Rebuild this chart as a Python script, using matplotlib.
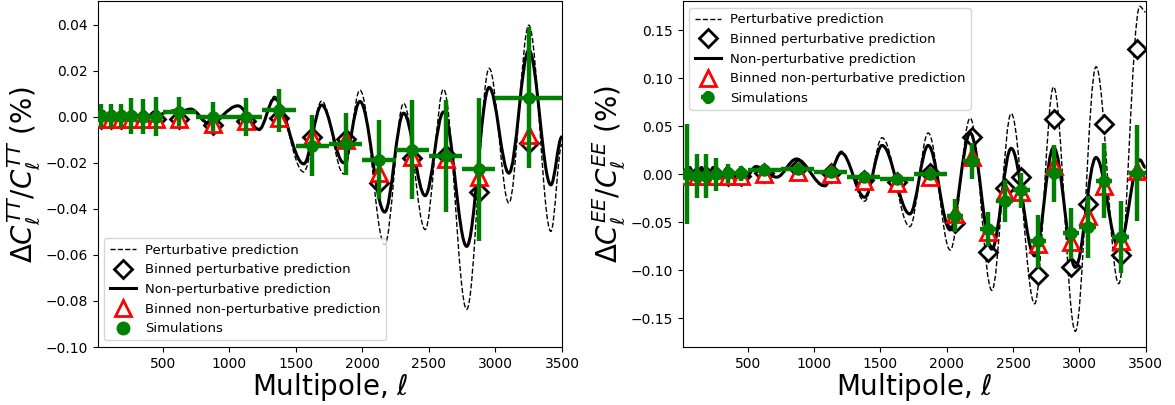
import matplotlib
matplotlib.use("Agg")
import matplotlib.pyplot as plt
from matplotlib.path import Path
from matplotlib.patches import PathPatch
from matplotlib.lines import Line2D
import numpy as np

# ---------------- TT panel data ----------------
tt_edges = [2, 75, 150, 225, 300, 400, 500, 750, 1000, 1250, 1500, 1750,
            2000, 2250, 2500, 2750, 3000, 3500]
tt_sim = [0.0005, 0.0005, 0.0003, 0.0003, 0.0, 0.0, 0.0022, 0.0, 0.0, 0.0027,
          -0.0126, -0.0118, -0.0186, -0.0143, -0.0170, -0.0229, 0.0083]
tt_sim_err = [0.005, 0.005, 0.005, 0.008, 0.0075, 0.0085, 0.0063, 0.0064, 0.0083,
              0.0093, 0.0133, 0.0135, 0.0170, 0.0215, 0.0242, 0.0310, 0.0307]
tt_bin_np = [-0.0012, -0.0012, -0.0012, -0.0012, -0.0012, -0.0012, -0.0008, -0.0033,
             -0.0019, -0.0007, -0.0087, -0.0100, -0.0245, -0.0173, -0.0185, -0.0260, -0.0079]
tt_bin_p = [-0.0010, -0.0010, -0.0010, -0.0010, -0.0010, -0.0010, -0.0008, -0.0035,
            -0.0019, -0.0005, -0.0090, -0.0098, -0.0286, -0.0180, -0.0165, -0.0325, -0.0115]

tt_curve_ell = [10, 25, 55, 90, 130, 165, 205, 240, 280, 320, 355, 395, 435, 475,
                520, 600, 640, 710, 850, 1065, 1225, 1340, 1560, 1695, 1860, 1982,
                2168, 2310, 2472, 2610, 2784, 2953, 3101, 3251, 3416, 3500]
tt_curve_np = [0.0005, -0.0008, 0.0022, -0.0005, 0.0021, -0.0004, 0.0021, -0.0003,
               0.0020, 0.0000, 0.0021, 0.0002, 0.0020, 0.0006, 0.0018, 0.0027, 0.0024,
               0.0033, -0.0030, 0.0047, -0.0055, 0.0078, -0.0205, 0.0050, -0.0200,
               0.0066, -0.0414, 0.0015, -0.0343, 0.0020, -0.0563, 0.0127, -0.0245,
               0.0289, -0.0296, -0.0087]
tt_curve_p = [0.0005, -0.0008, 0.0022, -0.0005, 0.0021, -0.0004, 0.0021, -0.0003,
              0.0020, 0.0000, 0.0021, 0.0002, 0.0020, 0.0006, 0.0018, 0.0027, 0.0024,
              0.0033, -0.0040, 0.0045, -0.0060, 0.0088, -0.0240, 0.0068, -0.0248,
              0.0115, -0.0556, 0.0058, -0.0490, 0.0119, -0.0837, 0.0210, -0.0375,
              0.0397, -0.0498, -0.0120]

# ---------------- EE panel data ----------------
ee_edges = [2, 75, 150, 225, 300, 400, 500, 750, 1000, 1250, 1500, 1750, 2000,
            2125, 2250, 2375, 2500, 2625, 2750, 2875, 3000, 3125, 3250, 3375, 3500]
ee_sim = [0.0, -0.0016, -0.0016, 0.0, 0.0008, 0.0008, 0.0044, 0.0054, 0.0026,
          -0.0033, -0.0054, 0.0, -0.0432, 0.0140, -0.0570, -0.0276, -0.0165,
          -0.0700, 0.0008, -0.0616, -0.0553, -0.0068, -0.0650, 0.0008]
ee_sim_err = [0.052, 0.023, 0.023, 0.017, 0.010, 0.008, 0.006, 0.006, 0.006,
              0.006, 0.006, 0.006, 0.0174, 0.0190, 0.0180, 0.0217, 0.0182, 0.0277,
              0.0295, 0.0265, 0.0324, 0.0390, 0.0376, 0.0500]
ee_bin_np = [-0.002, -0.002, -0.002, -0.002, -0.002, -0.002, 0.0, 0.0019, 0.0,
             -0.0075, -0.0096, -0.0033, -0.0414, 0.0175, -0.0606, -0.0189, -0.0189,
             -0.0726, 0.0088, -0.0710, -0.0432, -0.0120, -0.0700, 0.0036]
ee_bin_p = [-0.002, -0.002, -0.002, -0.002, -0.002, -0.002, 0.001, 0.0070, 0.001,
            -0.0060, -0.0080, 0.0010, -0.0512, 0.0390, -0.0814, -0.0148, -0.0026,
            -0.1046, 0.0574, -0.0970, -0.0310, 0.0520, -0.0838, 0.1310]

ee_curve_ell = [10, 30, 62, 105, 150, 195, 238, 290, 339, 390, 440, 490, 560, 717,
                865, 1079, 1205, 1381, 1512, 1721, 1860, 2026, 2177, 2340, 2486,
                2663, 2806, 2970, 3126, 3297, 3456, 3500]
ee_curve_np = [0.0, -0.006, 0.007, -0.008, 0.007, -0.008, 0.007, -0.007, 0.006,
               -0.006, 0.005, -0.002, 0.008, -0.003, 0.0158, -0.012, 0.0222, -0.024,
               0.030, -0.0414, 0.030, -0.058, 0.043, -0.078, 0.027, -0.085, 0.028,
               -0.097, 0.0175, -0.076, 0.015, 0.007]
ee_curve_p = [0.0, -0.006, 0.007, -0.008, 0.007, -0.008, 0.007, -0.007, 0.006,
              -0.006, 0.005, -0.002, 0.008, -0.003, 0.0165, -0.013, 0.024, -0.028,
              0.038, -0.0546, 0.043, -0.079, 0.0585, -0.121, 0.0633, -0.135, 0.091,
              -0.1636, 0.112, -0.114, 0.175, 0.169]

labels = ["Perturbative prediction", "Binned perturbative prediction",
          "Non-perturbative prediction", "Binned non-perturbative prediction",
          "Simulations"]


def smooth_path(x, y):
    """Smooth curve through the read extrema (flat tangents at each point)."""
    verts = [(x[0], y[0])]
    codes = [Path.MOVETO]
    for i in range(len(x) - 1):
        d = (x[i + 1] - x[i]) * 0.36
        verts += [(x[i] + d, y[i]), (x[i + 1] - d, y[i + 1]), (x[i + 1], y[i + 1])]
        codes += [Path.CURVE4] * 3
    return Path(verts, codes)


def panel(ax, edges, sim, sim_err, bin_np, bin_p, c_ell, c_np, c_p, sim_marker_only):
    edges = np.asarray(edges, float)
    centers = 0.5 * (edges[1:] + edges[:-1])
    half = 0.5 * (edges[1:] - edges[:-1])

    ax.add_patch(PathPatch(smooth_path(c_ell, c_p), fill=False, edgecolor="black",
                           lw=1.0, linestyle=(0, (3.7, 1.6)), zorder=1))
    ax.plot(centers, bin_p, ls="none", marker="D", ms=9, mfc="white", mec="black",
            mew=2, zorder=2)
    ax.add_patch(PathPatch(smooth_path(c_ell, c_np), fill=False, edgecolor="black",
                           lw=2.2, zorder=3))
    ax.plot(centers, bin_np, ls="none", marker="^", ms=11, mfc="white", mec="red",
            mew=2, zorder=4)
    ax.errorbar(centers, sim, yerr=sim_err, xerr=half, fmt="o", color="green",
                ms=8, elinewidth=3.2, capsize=0, zorder=5)

    handles = [
        Line2D([], [], color="black", lw=1.0, ls="--"),
        Line2D([], [], ls="none", marker="D", ms=9, mfc="white", mec="black", mew=2),
        Line2D([], [], color="black", lw=2.2),
        Line2D([], [], ls="none", marker="^", ms=11, mfc="white", mec="red", mew=2),
    ]
    if sim_marker_only:
        handles.append(Line2D([], [], ls="none", marker="o", ms=9, color="green"))
    else:
        eb = ax.errorbar([np.nan], [np.nan], yerr=[0.01], xerr=[10], fmt="o",
                         color="green", ms=8, elinewidth=3.2, capsize=0)
        handles.append(eb)
    return handles


fig = plt.figure(figsize=(11.75, 4.05), dpi=100)
ax1 = fig.add_axes([0.0831, 0.1432, 0.3952, 0.8531])
ax2 = fig.add_axes([0.5810, 0.1432, 0.3940, 0.8531])

h1 = panel(ax1, tt_edges, tt_sim, tt_sim_err, tt_bin_np, tt_bin_p,
           tt_curve_ell, tt_curve_np, tt_curve_p, True)
h2 = panel(ax2, ee_edges, ee_sim, ee_sim_err, ee_bin_np, ee_bin_p,
           ee_curve_ell, ee_curve_np, ee_curve_p, False)

ax1.set_xlim(12, 3500)
ax1.set_ylim(-0.10, 0.05)
ax1.set_yticks([-0.10, -0.08, -0.06, -0.04, -0.02, 0.00, 0.02, 0.04])
ax2.set_xlim(8, 3500)
ax2.set_ylim(-0.18, 0.18)
ax2.set_yticks([-0.15, -0.10, -0.05, 0.00, 0.05, 0.10, 0.15])

for ax in (ax1, ax2):
    ax.set_xticks([500, 1000, 1500, 2000, 2500, 3000, 3500])
    ax.tick_params(labelsize=10)
    ax.set_xlabel(r"Multipole, $\ell$", fontsize=20, labelpad=0)

ax1.set_ylabel(r"$\Delta C_\ell^{TT}/C_\ell^{TT}$ (%)", fontsize=20, labelpad=2)
ax2.set_ylabel(r"$\Delta C_\ell^{EE}/C_\ell^{EE}$ (%)", fontsize=20, labelpad=2)

ax1.legend(h1, labels, loc="lower left", fontsize=9.5, labelspacing=0.5,
           handletextpad=0.7)
ax2.legend(h2, labels, loc="upper left", fontsize=9.5, labelspacing=0.5,
           handletextpad=0.7)

fig.savefig("out.png", dpi=100)
